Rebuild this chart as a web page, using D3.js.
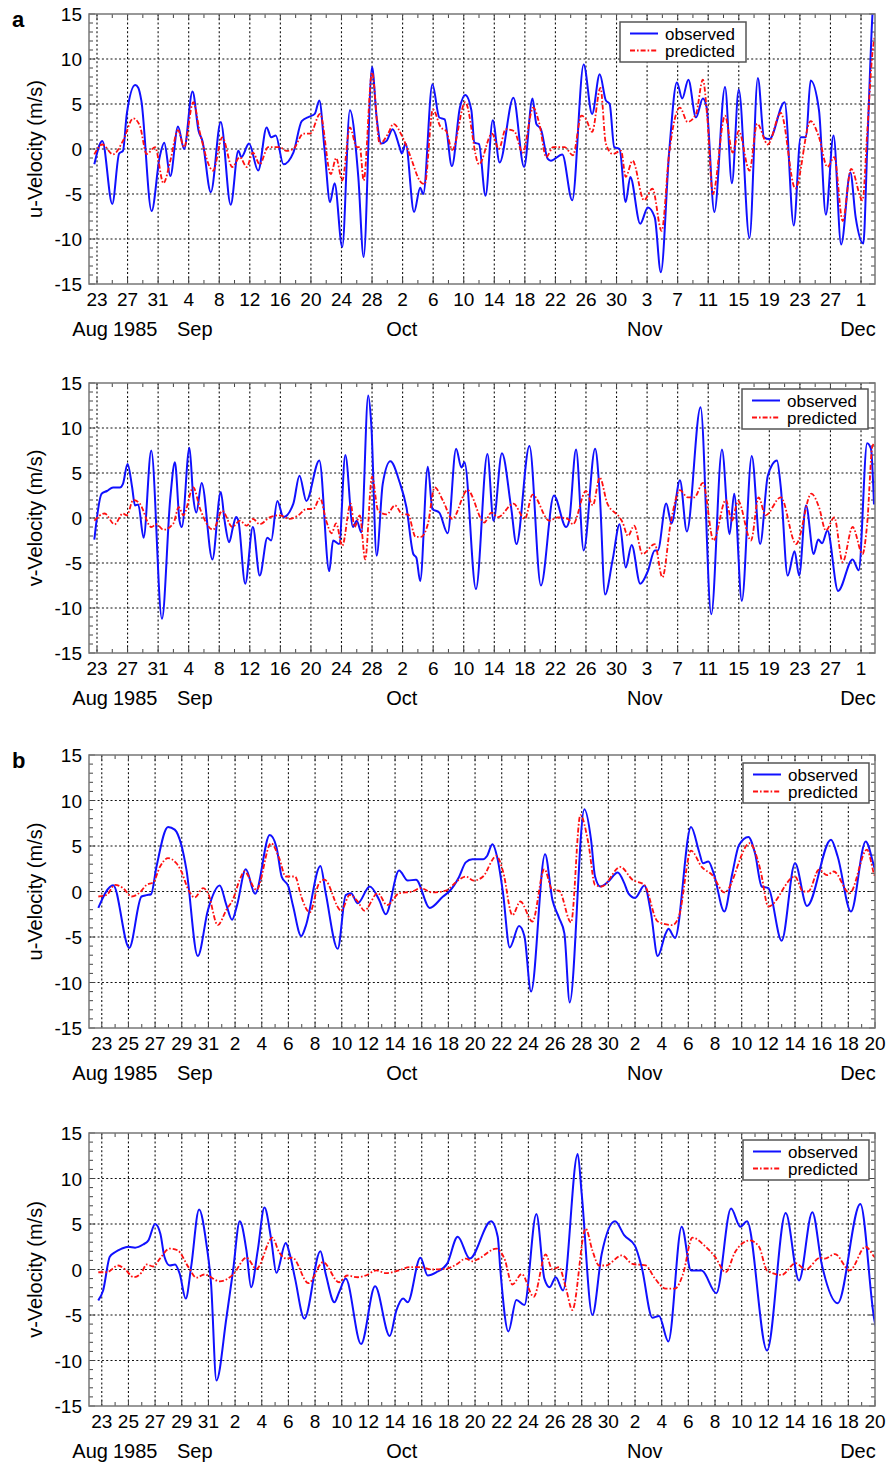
<!DOCTYPE html>
<html><head><meta charset="utf-8">
<script src="https://cdn.jsdelivr.net/npm/d3@7"></script>
<style>
body{margin:0;background:#fff}
text{font-family:"Liberation Sans",Arial,Helvetica,sans-serif;fill:#000}
</style></head>
<body>
<svg id="c" width="890" height="1464"></svg>
<script>
// Days counted from 23 Aug 1985
const startDate = Date.UTC(1985, 7, 23);
const seriesNames = ["observed", "predicted"];
const yTicks = [-15, -10, -5, 0, 5, 10, 15];
const monthLabels = [[-0.9, "Aug"], [5.0, "1985"], [12.8, "Sep"], [39.9, "Oct"], [71.7, "Nov"], [99.6, "Dec"]];

// Panel a, u-velocity
const uObsA = [[-0.35,-1.7],[0.7,0.9],[2.0,-6.1],[2.9,-0.5],[3.4,-0.2],[3.9,3.9],[5.0,7.1],[5.4,6.8],[5.8,5.4],[7.15,-6.9],[8.2,-0.9],[8.8,0.7],[9.6,-3.0],[10.6,2.5],[11.4,0],[12.5,6.4],[13.3,2.0],[13.8,0.9],[14.9,-4.8],[16.2,3.0],[17.5,-6.2],[18.5,-0.2],[18.9,-0.9],[19.9,0.6],[21.1,-2.4],[22.2,2.4],[22.8,1.3],[23.4,1.5],[24.4,-1.7],[25.7,-0.4],[26.8,3.1],[27.8,3.6],[28.5,3.9],[29.1,5.4],[29.8,-0.2],[30.5,-5.9],[31.1,-3.8],[32.1,-10.9],[33.1,4.3],[34.2,-3.1],[34.9,-12.0],[36.0,9.1],[36.6,3.5],[37.2,0.6],[37.9,0.9],[38.7,2.2],[39.6,0.2],[39.9,-0.5],[40.4,0.6],[41.5,-7.0],[42.3,-4.3],[42.7,-5.0],[43.9,7.2],[44.8,3.5],[45.5,3.3],[46.45,-1.9],[47.5,4.6],[48.2,6.0],[49.0,4.3],[49.4,0.7],[50.0,0.55],[50.85,-5.2],[51.8,3.2],[52.7,-1.5],[54.5,5.7],[55.9,-2.0],[57.0,5.6],[57.5,2.8],[58.1,2.2],[59.0,-1.1],[59.4,-1.3],[60.9,-0.6],[62.2,-5.7],[63.7,9.4],[64.8,3.9],[65.8,8.3],[66.6,5.4],[67.1,5.0],[67.7,0.2],[68.4,0],[69.2,-5.9],[69.8,-3.1],[71.1,-8.3],[72.1,-6.5],[73.0,-7.6],[73.8,-13.7],[74.9,-0.2],[75.9,7.4],[76.6,5.6],[77.4,7.7],[78.4,3.5],[79.3,5.6],[79.8,4.6],[80.8,-7.0],[82.2,6.9],[83.1,-3.8],[84.0,6.6],[85.4,-9.9],[86.5,7.9],[87.3,1.3],[88.0,1.1],[90.0,5.2],[91.2,-8.5],[92.1,1.3],[92.8,1.3],[93.4,7.6],[94.5,4.3],[95.4,-7.3],[96.4,1.5],[97.4,-10.6],[98.6,-2.6],[99.3,-7.6],[100.3,-10.5],[100.8,-0.2],[101.2,9.1],[101.5,15],[101.9,18]];
const uPredA = [[-0.35,-0.6],[0.7,0.5],[2.1,-0.6],[3.4,0.9],[4.75,3.4],[5.6,2.6],[6.5,-0.55],[7.6,0.2],[8.7,-3.8],[9.6,-1.3],[10.6,2.1],[11.4,0.2],[12.6,5.2],[13.5,1.7],[15.2,-2.4],[16.4,1.3],[17.7,-2.0],[18.7,-0.9],[19.6,-2.0],[20.4,-0.4],[21.3,-1.7],[22.4,0.2],[23.9,0.2],[24.8,-0.2],[25.7,0],[27.0,1.7],[27.9,1.7],[29.2,3.9],[30.6,-2.8],[31.3,-1.0],[32.1,-3.5],[33.1,2.4],[34.0,0.2],[34.4,0.2],[34.9,-3.5],[36.0,8.5],[37.0,0.6],[38.1,1.7],[38.8,2.8],[40.0,1.3],[40.9,-0.55],[42.4,-3.7],[42.9,-3.9],[43.96,4.4],[45.0,2.4],[45.7,2.0],[46.5,-0.1],[48.2,5.2],[50.0,-1.7],[51.7,1.7],[52.6,0],[53.5,2.2],[54.6,2.0],[55.7,-0.4],[57.1,4.6],[57.9,2.8],[58.8,-0.9],[59.7,0.2],[61.2,0.2],[62.3,-0.7],[63.4,3.7],[64.0,3.3],[64.8,1.9],[65.9,6.8],[66.6,0.6],[67.5,-0.55],[68.6,-0.2],[69.2,-3.1],[70.1,-1.3],[71.6,-5.7],[72.7,-4.4],[73.9,-9.1],[74.9,-0.4],[76.3,4.6],[77.3,3.0],[78.4,3.9],[79.3,7.7],[79.9,3.3],[80.6,-5.0],[82.2,3.7],[83.2,-0.4],[84.0,2.0],[85.4,-2.4],[86.4,2.8],[87.8,0.5],[89.5,4.0],[91.4,-4.4],[93.4,3.1],[94.5,1.3],[95.6,-2.0],[96.5,-0.9],[97.6,-8.0],[98.7,-2.2],[100.2,-5.7],[100.8,1.7],[101.5,10.7],[101.9,13]];

// Panel a, v-velocity
const vObsA = [[-0.35,-2.4],[0.6,2.7],[1.3,3.0],[2.1,3.4],[3.0,3.4],[3.4,3.8],[4.0,6.0],[4.6,3.4],[4.97,1.4],[5.4,1.5],[6.1,-2.2],[7.1,7.5],[8.5,-11.2],[9.6,2.3],[10.2,6.2],[10.8,-0.3],[11.1,-1.0],[12.1,7.8],[12.6,2.3],[13.0,0.6],[13.7,3.9],[15.1,-4.6],[16.2,2.9],[16.7,-0.3],[17.3,-2.7],[17.8,-1.0],[18.2,0.1],[18.5,-0.3],[19.4,-7.3],[20.4,-1.0],[21.3,-6.4],[22.3,-2.2],[22.8,-2.5],[23.6,1.9],[24.4,0.1],[25.7,1.6],[26.5,4.7],[27.4,1.9],[29.1,6.4],[30.4,-5.9],[30.9,-2.5],[31.7,-2.9],[32.5,7.0],[33.5,-1.0],[34.0,-0.3],[34.6,-1.6],[35.5,13.6],[35.9,10.4],[36.6,-4.2],[37.4,3.8],[38.4,6.3],[39.6,4.0],[40.5,1.2],[41.4,-4.0],[41.8,-4.4],[42.3,-7.0],[43.3,5.7],[43.9,1.0],[44.8,0.6],[45.9,-1.7],[47.0,7.7],[47.7,5.6],[48.1,6.2],[49.6,-7.9],[51.1,7.1],[51.9,-0.3],[53.0,7.2],[54.2,1.2],[54.9,-2.9],[56.6,8.0],[58.1,-7.5],[59.8,2.5],[61.4,-1.0],[61.8,-0.3],[62.7,7.6],[63.7,-3.6],[65.2,7.7],[65.8,2.7],[66.5,-8.5],[67.5,-4.6],[68.4,-0.7],[69.2,-5.5],[69.98,-3.0],[71.1,-7.3],[72.1,-5.9],[73.0,-3.6],[73.4,-3.6],[74.5,1.6],[75.2,-0.6],[76.3,4.2],[77.2,-1.5],[79.0,12.3],[80.4,-10.7],[81.8,7.6],[82.8,-1.8],[83.4,2.7],[84.4,-9.2],[85.7,6.9],[86.8,-2.9],[87.8,4.7],[89.0,6.4],[89.5,3.4],[90.4,-6.4],[91.3,-3.7],[91.9,-6.4],[92.8,1.4],[93.8,-4.0],[94.4,-2.4],[94.9,-2.8],[95.6,-1.4],[97.0,-8.1],[98.9,-4.6],[99.7,-5.8],[100.8,8.3],[101.3,7.7],[101.7,1.5]];
const vPredA = [[-0.35,-0.3],[1.0,0.5],[2.3,-0.7],[3.4,0.5],[3.9,0.3],[4.75,2.0],[5.6,1.6],[7.1,-1.0],[7.8,-0.7],[8.7,-1.3],[10.0,-0.6],[10.7,1.2],[11.3,0.3],[12.6,3.4],[13.5,1.0],[15.2,-1.3],[16.4,0.8],[17.7,-1.0],[18.7,-0.3],[19.6,-0.85],[20.4,-0.1],[21.3,-0.7],[22.6,0.07],[23.9,0.3],[25.2,-0.1],[26.5,0.4],[27.4,1.0],[28.3,1.0],[29.2,2.2],[30.0,-0.3],[30.7,-1.7],[31.3,-0.6],[32.1,-3.1],[33.2,1.6],[33.7,-1.0],[34.4,0.3],[35.1,-4.6],[36.0,4.6],[36.8,0.8],[37.9,0.4],[39.0,1.4],[40.0,0.4],[40.7,0.4],[41.7,-2.1],[42.4,-2.1],[43.3,-0.7],[44.2,3.4],[45.3,1.9],[46.5,-0.1],[48.5,3.1],[50.7,-0.5],[51.6,0.6],[52.5,0.1],[54.5,1.6],[56.0,-0.1],[57.0,2.6],[59.2,-0.3],[60.3,0.07],[61.6,-0.1],[62.3,-0.7],[64.0,3.0],[64.9,1.4],[65.8,4.5],[66.8,1.6],[68.4,0.07],[68.8,-0.5],[69.5,-2.0],[70.3,-0.85],[71.4,-4.0],[73.0,-2.9],[74.0,-6.6],[75.1,-0.5],[76.3,3.1],[77.3,2.3],[78.2,2.3],[79.3,3.9],[80.7,-2.5],[82.3,2.0],[83.1,-0.3],[83.9,1.9],[85.6,-2.5],[86.6,2.3],[87.5,0.3],[89.5,2.3],[91.5,-2.9],[93.5,2.7],[94.5,1.2],[95.4,-1.4],[96.5,0.07],[97.6,-4.9],[98.9,-1.0],[100.2,-4.0],[100.8,-0.7],[101.5,8.0],[101.9,8.4]];

// Panel b, u-velocity
const uObsB = [[-0.26,-1.8],[0.86,0.7],[2.06,-6.2],[2.98,-0.55],[3.36,-0.4],[3.7,-0.3],[4.1,2.7],[4.97,7.1],[5.47,6.8],[5.97,5.1],[6.35,2.4],[7.2,-7.1],[7.97,-2.0],[8.85,0.66],[9.35,-1.5],[9.77,-3.1],[10.15,-1.5],[10.8,2.45],[11.5,-0.26],[12.6,6.2],[13.1,4.9],[13.5,1.6],[14.0,0.55],[14.35,-1.6],[14.96,-4.9],[15.3,-3.8],[16.4,2.8],[16.8,-0.2],[17.7,-6.3],[18.3,-0.4],[18.7,-0.2],[19.2,-1.3],[20.1,0.55],[20.8,-0.9],[21.3,-2.5],[22.3,2.3],[22.95,1.2],[23.57,1.3],[24.6,-1.8],[25.6,-0.55],[26.06,0],[26.8,1.6],[27.3,3.2],[27.8,3.55],[28.6,3.55],[28.9,3.9],[29.3,5.2],[29.7,3.5],[30.1,-0.2],[30.6,-6.15],[31.3,-3.8],[31.7,-4.9],[32.2,-11.0],[33.25,4.1],[33.8,-0.9],[34.3,-2.9],[34.7,-4.6],[35.1,-12.2],[36.2,9.05],[36.7,5.7],[37.0,1.65],[37.4,0.55],[38.0,1.1],[38.7,2.1],[39.2,0.9],[39.5,-0.2],[40.0,-0.7],[40.7,0.66],[41.2,-2.4],[41.7,-7.1],[42.3,-4.6],[42.5,-4.1],[43.0,-5.1],[44.2,7.1],[44.8,4.4],[45.1,3.1],[45.5,3.3],[45.9,2.0],[46.7,-2.2],[47.3,2.0],[47.8,5.1],[48.5,6.0],[49.0,4.2],[49.5,0.55],[50.0,0.37],[51.0,-5.4],[52.0,3.1],[52.9,-1.6],[54.7,5.7],[55.2,3.85],[56.2,-2.2],[57.3,5.5],[57.96,2.6],[58.2,1.5]];
const uPredB = [[-0.26,-0.55],[0.36,-0.37],[0.99,0.73],[1.6,0.37],[2.24,-0.55],[2.86,-0.1],[3.36,0.73],[3.86,1.0],[4.36,2.7],[4.97,3.66],[5.6,3.1],[5.97,2.2],[6.5,0.18],[6.97,-0.66],[7.6,0.37],[7.97,-0.18],[8.7,-3.7],[9.35,-2.0],[9.85,-0.84],[10.35,1.3],[10.7,2.2],[11.6,0.18],[12.7,5.3],[13.3,3.7],[13.8,1.65],[14.5,1.65],[14.96,-0.55],[15.6,-2.3],[16.3,0.9],[16.7,1.3],[17.96,-2.1],[18.6,-0.37],[19.2,-1.1],[19.7,-2.1],[20.7,-0.18],[21.4,-1.5],[22.3,-0.2],[23.3,0],[23.9,0.37],[24.8,-0.1],[25.8,0.1],[26.8,1.3],[27.3,1.65],[27.9,1.2],[28.6,1.65],[29.6,3.9],[30.1,2.2],[30.8,-2.6],[31.4,-1.1],[32.3,-3.3],[33.2,2.45],[33.8,0.18],[34.3,0.1],[35.2,-3.4],[35.9,8.4],[36.5,5.3],[37.0,0.73],[37.5,0.55],[38.9,2.7],[39.8,1.3],[40.7,0.73],[41.7,-3.3],[42.8,-3.7],[43.3,-2.7],[44.2,4.5],[45.0,2.7],[45.8,1.8],[46.7,-0.1],[48.6,5.3],[49.4,2.4],[50.0,-1.65],[52.0,1.65],[52.6,0],[53.0,0],[53.8,2.4],[54.4,1.8],[54.9,2.2],[56.1,-0.18],[57.4,4.6],[57.96,1.8],[58.2,1.2]];

// Panel b, v-velocity
const vObsB = [[-0.26,-3.4],[0.1,-2.3],[0.6,1.4],[0.99,1.9],[1.5,2.3],[2.0,2.5],[2.5,2.4],[3.1,2.75],[3.5,3.2],[4.0,5.0],[4.4,3.9],[4.7,1.4],[5.1,0.44],[5.5,0.55],[5.85,-0.5],[6.3,-3.2],[6.7,0.26],[7.3,6.6],[7.85,2.8],[8.2,-1.6],[8.6,-12.2],[9.35,-5.3],[9.85,-0.1],[10.35,5.3],[10.85,2.1],[11.2,-1.95],[11.7,2.1],[12.2,6.8],[12.7,3.4],[13.1,-0.37],[13.8,2.9],[14.1,1.7],[14.5,-1.0],[15.2,-5.4],[16.4,2.0],[16.8,-0.5],[17.45,-3.6],[17.8,-2.5],[18.3,-1.0],[19.45,-8.2],[20.5,-1.85],[21.6,-7.3],[22.1,-4.5],[22.6,-3.2],[22.95,-3.6],[23.9,1.3],[24.45,-0.66],[25.1,-0.3],[25.9,0.62],[26.7,3.6],[27.6,1.2],[29.2,5.3],[29.7,3.6],[29.9,-0.1],[30.5,-6.8],[31.1,-3.35],[31.7,-3.9],[32.6,6.1],[33.2,-1.0],[33.6,-1.95],[34.05,-0.85],[34.6,-2.3],[35.7,12.7],[36.0,8.3],[36.8,-5.0],[37.5,1.7],[38.5,5.3],[39.2,3.75],[40.0,2.6],[40.5,0.26],[41.3,-5.3],[41.8,-5.1],[42.5,-7.9],[43.5,4.7],[44.2,-0.1],[45.0,-0.1],[46.1,-2.6],[47.2,6.7],[47.9,4.7],[48.4,5.3],[49.9,-8.9],[51.3,6.2],[52.3,-1.2],[53.3,6.3],[54.0,0.62],[55.2,-3.7],[56.9,7.2],[57.96,-5.6],[58.1,-6.5]];
const vPredB = [[-0.26,-0.3],[0.36,-0.3],[1.24,0.44],[1.7,0.07],[2.4,-0.85],[3.0,-0.3],[3.36,0.55],[3.86,0.33],[4.36,1.2],[5.1,2.3],[5.7,2.1],[6.5,0.26],[7.1,-0.9],[7.7,-0.55],[8.85,-1.3],[9.85,-0.55],[10.85,1.3],[11.6,0.07],[12.8,3.5],[13.3,1.9],[13.85,1.2],[14.3,1.3],[15.5,-1.5],[16.6,0.8],[17.8,-1.4],[18.4,-0.66],[19.2,-0.85],[19.8,-0.66],[20.6,-0.1],[21.3,-0.4],[22.3,-0.1],[23.1,0.26],[23.9,0.26],[24.8,0],[25.8,0.07],[26.6,0.55],[27.3,1.2],[27.8,0.9],[28.3,1.2],[29.6,2.3],[30.2,1.2],[30.8,-1.65],[31.5,-0.5],[32.4,-3.0],[33.3,1.65],[33.8,0],[34.3,0.26],[34.8,-1.95],[35.3,-4.45],[36.3,4.5],[36.8,2.1],[37.3,0.44],[37.8,0.44],[39.0,1.55],[39.8,0.62],[40.8,0.44],[41.5,-1.0],[42.3,-2.1],[43.0,-2.1],[43.6,-0.5],[44.3,3.5],[45.3,2.5],[46.0,1.4],[46.8,-0.3],[47.5,1.9],[48.6,3.2],[49.3,2.5],[49.9,-0.1],[51.0,-0.6],[52.05,0.7],[52.8,0],[53.9,1.3],[54.25,1.2],[55.0,1.7],[56.1,-0.1],[57.3,2.5],[57.96,1.4],[58.2,1.1]];

const panels = [
  {label:"a", title:"u-Velocity (m/s)", obs:uObsA, pred:uPredA, domain:[-1.047,101.83], major:4, minor:2, top:14, bottom:284, legend:[620,22]},
  {label:null, title:"v-Velocity (m/s)", obs:vObsA, pred:vPredA, domain:[-1.047,101.83], major:4, minor:2, top:383, bottom:653, legend:[742,389]},
  {label:"b", title:"u-Velocity (m/s)", obs:uObsB, pred:uPredB, domain:[-0.958,58.0], major:2, minor:1, top:755, bottom:1028, legend:[743,763]},
  {label:null, title:"v-Velocity (m/s)", obs:vObsB, pred:vPredB, domain:[-0.958,58.0], major:2, minor:1, top:1133, bottom:1406, legend:[743,1140]}
];

const L = 89, R = 875;
const svg = d3.select("#c");
const defs = svg.append("defs");
const monthX = d3.scaleLinear().domain(panels[0].domain).range([L, R]);
const dayOfMonth = d => new Date(startDate + Math.round(d) * 86400000).getUTCDate();
const colors = {observed:"#1010ff", predicted:"#ff1010"};
const dashes = {observed:null, predicted:"5,2,1.6,2"};

panels.forEach((p, i) => {
  const x = d3.scaleLinear().domain(p.domain).range([L, R]);
  const y = d3.scaleLinear().domain([-15, 15]).range([p.bottom, p.top]);
  const g = svg.append("g");
  const majors = d3.range(0, p.domain[1] + 0.01, p.major);
  const minors = d3.range(0, p.domain[1] + 0.01, p.minor).filter(d => d % p.major !== 0);
  const yMinor = d3.range(-15, 16, 1).filter(v => v % 5 !== 0);

  // grid
  g.selectAll(".vg").data(majors.filter(d => x(d) < R - 1)).join("line")
    .attr("x1", d => x(d)).attr("x2", d => x(d)).attr("y1", p.top).attr("y2", p.bottom)
    .attr("stroke", "#111").attr("stroke-width", 1.1).attr("stroke-dasharray", "2,2.3");
  g.selectAll(".hg").data(yTicks.filter(v => v > -15 && v < 15)).join("line")
    .attr("x1", L).attr("x2", R).attr("y1", d => y(d)).attr("y2", d => y(d))
    .attr("stroke", "#111").attr("stroke-width", 1.1).attr("stroke-dasharray", "2,2.3");

  // ticks (inward, all four sides)
  const tk = g.append("g").attr("stroke", "#444").attr("stroke-width", 1);
  [[majors, 6], [minors, 4]].forEach(([arr, len]) => {
    arr.forEach(d => {
      tk.append("line").attr("x1", x(d)).attr("x2", x(d)).attr("y1", p.bottom).attr("y2", p.bottom - len);
      tk.append("line").attr("x1", x(d)).attr("x2", x(d)).attr("y1", p.top).attr("y2", p.top + len);
    });
  });
  [[yTicks, 6], [yMinor, 4]].forEach(([arr, len]) => {
    arr.forEach(v => {
      tk.append("line").attr("x1", L).attr("x2", L + len).attr("y1", y(v)).attr("y2", y(v));
      tk.append("line").attr("x1", R).attr("x2", R - len).attr("y1", y(v)).attr("y2", y(v));
    });
  });

  // tick labels
  g.selectAll(".xl").data(majors).join("text")
    .attr("x", d => x(d)).attr("y", p.bottom + 22).attr("text-anchor", "middle")
    .attr("font-size", 19).text(d => dayOfMonth(d));
  g.selectAll(".yl").data(yTicks).join("text")
    .attr("x", 82).attr("y", d => y(d) + 7).attr("text-anchor", "end")
    .attr("font-size", 19).text(d => d);
  g.selectAll(".ml").data(monthLabels).join("text")
    .attr("x", d => monthX(d[0])).attr("y", p.bottom + 52).attr("text-anchor", "middle")
    .attr("font-size", 20).text(d => d[1]);

  // y title
  g.append("text").attr("transform", `translate(42,${(p.top + p.bottom) / 2}) rotate(-90)`)
    .attr("text-anchor", "middle").attr("font-size", 20).text(p.title);

  if (p.label) {
    g.append("text").attr("x", 12).attr("y", p.top + 13).attr("font-size", 22)
      .attr("font-weight", "bold").text(p.label);
  }

  // data lines
  const cid = "clip" + i;
  defs.append("clipPath").attr("id", cid).append("rect")
    .attr("x", L).attr("y", p.top).attr("width", R - L).attr("height", p.bottom - p.top);
  const line = d3.line().x(d => x(d[0])).y(d => y(d[1])).curve(d3.curveMonotoneX);
  const lg = g.append("g").attr("clip-path", `url(#${cid})`);
  [["observed", p.obs], ["predicted", p.pred]].forEach(([name, data]) => {
    lg.append("path").datum(data).attr("d", line).attr("fill", "none")
      .attr("stroke", colors[name]).attr("stroke-width", name === "observed" ? 2 : 1.8)
      .attr("stroke-dasharray", dashes[name]).attr("stroke-linejoin", "round");
  });

  // frame
  g.append("rect").attr("x", L).attr("y", p.top).attr("width", R - L).attr("height", p.bottom - p.top)
    .attr("fill", "none").attr("stroke", "#777").attr("stroke-width", 1.5);

  // legend
  const [lx, ly] = p.legend;
  const leg = g.append("g").attr("transform", `translate(${lx},${ly})`);
  leg.append("rect").attr("width", 126).attr("height", 40).attr("fill", "#fff")
    .attr("stroke", "#555").attr("stroke-width", 1.5);
  seriesNames.forEach((name, k) => {
    const cy = 11.5 + k * 17;
    leg.append("line").attr("x1", 10).attr("x2", 38).attr("y1", cy).attr("y2", cy)
      .attr("stroke", colors[name]).attr("stroke-width", 2).attr("stroke-dasharray", dashes[name]);
    leg.append("text").attr("x", 45).attr("y", cy + 6).attr("font-size", 17).text(name);
  });
});
</script>
</body></html>
